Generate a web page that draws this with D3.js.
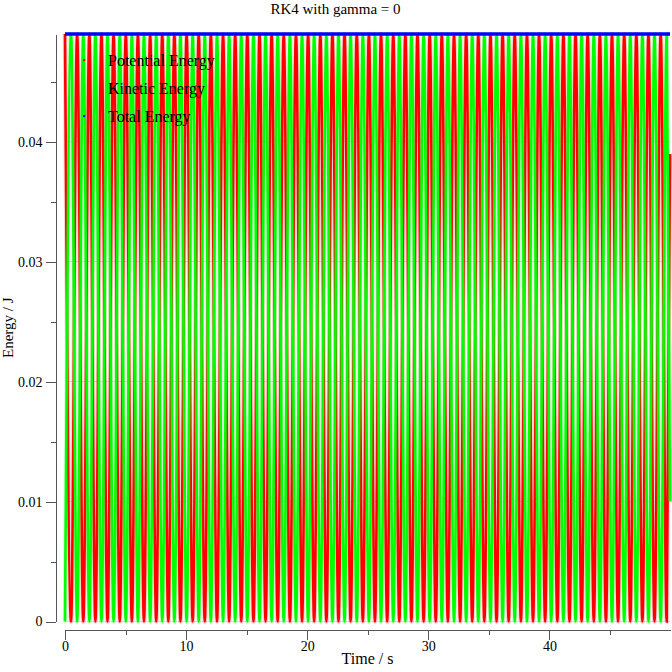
<!DOCTYPE html>
<meta charset="utf-8">
<style>
body { margin: 0; background: #fff; }
text { font-family: "Liberation Serif", "Times New Roman", serif; fill: #000; }
.axis path, .axis line { stroke: #555; stroke-width: 1; shape-rendering: crispEdges; }
.grid line { stroke: #dcdcdc; stroke-width: 1; shape-rendering: crispEdges; }
</style>
<body>
<div id="plotHere"></div>
<script src="https://cdn.jsdelivr.net/npm/d3@7"></script>
<script>
//------------------------ DATA ------------------------//
const title = "RK4 with gamma = 0";
const xlabel = "Time / s";
const ylabel = "Energy / J";
const seriesNames = ["Potential Energy", "Kinetic Energy", "Total Energy"];

// turning points of the energy exchange
const time = [
  0, 0.50, 1.00, 1.51, 2.01, 2.51, 3.01, 3.51, 4.01, 4.52,
  5.02, 5.52, 6.02, 6.52, 7.03, 7.53, 8.03, 8.53, 9.03, 9.53,
  10.04, 10.54, 11.04, 11.54, 12.04, 12.55, 13.05, 13.55, 14.05, 14.55,
  15.05, 15.56, 16.06, 16.56, 17.06, 17.56, 18.06, 18.57, 19.07, 19.57,
  20.07, 20.57, 21.08, 21.58, 22.08, 22.58, 23.08, 23.58, 24.09, 24.59,
  25.09, 25.59, 26.09, 26.60, 27.10, 27.60, 28.10, 28.60, 29.10, 29.61,
  30.11, 30.61, 31.11, 31.61, 32.12, 32.62, 33.12, 33.62, 34.12, 34.62,
  35.13, 35.63, 36.13, 36.63, 37.13, 37.64, 38.14, 38.64, 39.14, 39.64,
  40.14, 40.65, 41.15, 41.65, 42.15, 42.65, 43.15, 43.66, 44.16, 44.66,
  45.16, 45.66, 46.17, 46.67, 47.17, 47.67, 48.17, 48.67, 49.18, 49.68,
  49.95
];
const potential = [
  0.049, 0, 0.049, 0, 0.049, 0, 0.049, 0, 0.049, 0,
  0.049, 0, 0.049, 0, 0.049, 0, 0.049, 0, 0.049, 0,
  0.049, 0, 0.049, 0, 0.049, 0, 0.049, 0, 0.049, 0,
  0.049, 0, 0.049, 0, 0.049, 0, 0.049, 0, 0.049, 0,
  0.049, 0, 0.049, 0, 0.049, 0, 0.049, 0, 0.049, 0,
  0.049, 0, 0.049, 0, 0.049, 0, 0.049, 0, 0.049, 0,
  0.049, 0, 0.049, 0, 0.049, 0, 0.049, 0, 0.049, 0,
  0.049, 0, 0.049, 0, 0.049, 0, 0.049, 0, 0.049, 0,
  0.049, 0, 0.049, 0, 0.049, 0, 0.049, 0, 0.049, 0,
  0.049, 0, 0.049, 0, 0.049, 0, 0.049, 0, 0.049, 0,
  0.039
];
const kinetic = [
  0, 0.049, 0, 0.049, 0, 0.049, 0, 0.049, 0, 0.049,
  0, 0.049, 0, 0.049, 0, 0.049, 0, 0.049, 0, 0.049,
  0, 0.049, 0, 0.049, 0, 0.049, 0, 0.049, 0, 0.049,
  0, 0.049, 0, 0.049, 0, 0.049, 0, 0.049, 0, 0.049,
  0, 0.049, 0, 0.049, 0, 0.049, 0, 0.049, 0, 0.049,
  0, 0.049, 0, 0.049, 0, 0.049, 0, 0.049, 0, 0.049,
  0, 0.049, 0, 0.049, 0, 0.049, 0, 0.049, 0, 0.049,
  0, 0.049, 0, 0.049, 0, 0.049, 0, 0.049, 0, 0.049,
  0, 0.049, 0, 0.049, 0, 0.049, 0, 0.049, 0, 0.049,
  0, 0.049, 0, 0.049, 0, 0.049, 0, 0.049, 0, 0.049,
  0.010
];
const totalTime = [0, 49.95];
const totalEnergy = [0.049, 0.049];

const xMajor = [0, 10, 20, 30, 40];
const xMinor = [5, 15, 25, 35, 45];
const yMajor = [0, 0.01, 0.02, 0.03, 0.04];
const yMinor = [0.005, 0.015, 0.025, 0.035, 0.045];

//------------------------ SVG ------------------------//
const W = 672, H = 672;
const plot = {left: 65, right: 670, top: 34, bottom: 621.5};
const xAxisY = 629.5, yAxisX = 55.5;

const svg = d3.select("#plotHere").append("svg")
    .attr("width", W)
    .attr("height", H);

const x = d3.scaleLinear().domain([0, 49.95]).range([plot.left, plot.right]);
const y = d3.scaleLinear().domain([0, 0.049]).range([plot.bottom, plot.top]);

// faint horizontal grid
svg.append("g").attr("class", "grid")
  .selectAll("line").data(yMajor).join("line")
    .attr("x1", plot.left).attr("x2", plot.right)
    .attr("y1", d => y(d)).attr("y2", d => y(d));

//------------------------ AXES ------------------------//
svg.append("g").attr("class", "axis")
    .attr("transform", "translate(0," + xAxisY + ")")
    .call(d3.axisBottom(x).tickValues(xMajor).tickSize(10).tickSizeOuter(0).tickPadding(2))
    .call(g => g.selectAll("text").style("font-size", "14px")
        .style("font-family", "Liberation Serif").attr("fill", "#000"));
svg.append("g").attr("class", "axis")
    .attr("transform", "translate(0," + xAxisY + ")")
    .call(d3.axisBottom(x).tickValues(xMinor).tickSize(5).tickFormat(""))
    .call(g => g.select(".domain").remove());

svg.append("g").attr("class", "axis")
    .attr("transform", "translate(" + yAxisX + ",0)")
    .call(d3.axisLeft(y).tickValues(yMajor).tickSize(10).tickSizeOuter(0).tickPadding(3)
        .tickFormat(d => d === 0 ? "0" : d.toFixed(2)))
    .call(g => g.selectAll("text").style("font-size", "14px")
        .style("font-family", "Liberation Serif").attr("fill", "#000"));
svg.append("g").attr("class", "axis")
    .attr("transform", "translate(" + yAxisX + ",0)")
    .call(d3.axisLeft(y).tickValues(yMinor).tickSize(5).tickFormat(""))
    .call(g => g.select(".domain").remove());

svg.append("text")
    .attr("x", (plot.left + plot.right) / 2)
    .attr("y", 664)
    .attr("text-anchor", "middle")
    .style("font-size", "16px")
    .text(xlabel);

svg.append("text")
    .attr("transform", "translate(13," + ((plot.top + plot.bottom) / 2) + ") rotate(-90)")
    .attr("text-anchor", "middle")
    .style("font-size", "15px")
    .text(ylabel);

svg.append("text")
    .attr("x", 335.5)
    .attr("y", 14)
    .attr("text-anchor", "middle")
    .style("font-size", "15px")
    .text(title);

//------------------------ LINES ------------------------//
const line = d3.line()
    .x(d => x(d[0]))
    .y(d => y(d[1]))
    .curve(d3.curveMonotoneX);

const peData = time.map((t, i) => [t, potential[i]]);
const keData = time.map((t, i) => [t, kinetic[i]]);
const teData = totalTime.map((t, i) => [t, totalEnergy[i]]);

const series = [
  {data: peData, color: "#ff0000", width: 2.6},
  {data: keData, color: "#00ff00", width: 2.6},
  {data: teData, color: "#0000ff", width: 3.6}
];

series.forEach(s => {
  if (s.data.length > 2) {
    svg.append("path")
        .datum(s.data)
        .attr("d", line)
        .attr("fill", "none")
        .attr("stroke", s.color)
        .attr("stroke-opacity", 0.18)
        .attr("stroke-width", s.width + 2);
  }
  svg.append("path")
      .datum(s.data)
      .attr("d", line)
      .attr("fill", "none")
      .attr("stroke", s.color)
      .attr("stroke-width", s.width);
});

//------------------------ LEGEND ------------------------//
const legend = svg.append("g");
seriesNames.forEach((name, i) => {
  const cy = 60 + i * 28;
  legend.append("rect")
      .attr("x", 83).attr("y", cy - 1)
      .attr("width", 2.2).attr("height", 2.2)
      .attr("fill", series[i].color);
  legend.append("text")
      .attr("x", 108)
      .attr("y", cy + 5.5)
      .style("font-size", "16px")
      .text(name);
});
</script>
</body>
